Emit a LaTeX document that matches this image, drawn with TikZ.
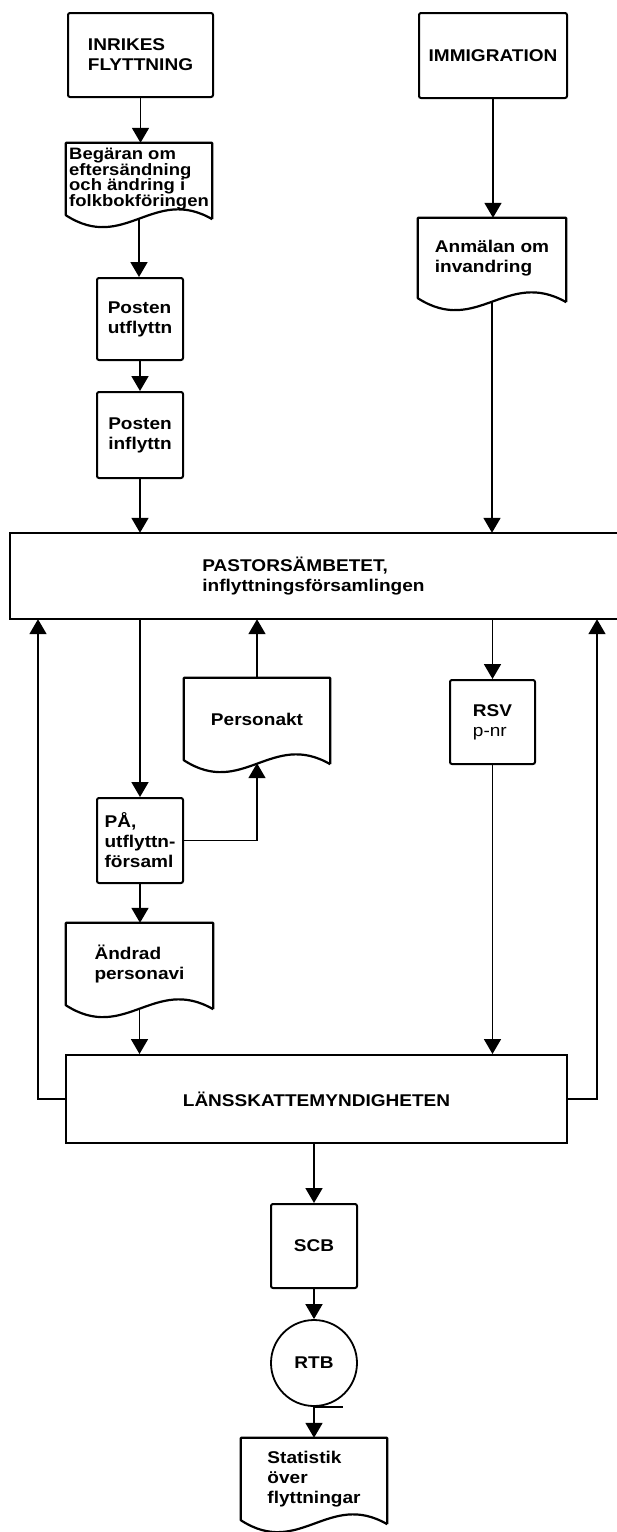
\documentclass[tikz,border=0pt]{standalone}
\usepackage{fontspec}
\setmainfont{Liberation Sans}[FakeStretch=1.12]
\usetikzlibrary{arrows.meta,calc}
\newcommand\lbl{\fontsize{17}{20}\selectfont\bfseries}
\newcommand\lbltight{\fontsize{16.5}{15.5}\selectfont\bfseries}
\tikzset{
  box/.style={draw, line width=2pt, rounded corners=2pt, inner sep=0pt, align=left, font=\lbl},
  docnode/.style={inner sep=0pt, align=left, font=\lbl},
  conn/.style={line width=1.8pt, -{Triangle[length=15pt,width=17pt]}},
  plainline/.style={line width=1.8pt},
  docline/.style={line width=2.2pt, line join=round},
}
\newcommand\docshape[1]{\draw[docline] ($(#1.south east)+(0,4)$) -- (#1.north east) -- (#1.north west) -- (#1.south west) .. controls ($(#1.south west)!0.4!(#1.south east)+(0,38)$) and ($(#1.south west)!0.6!(#1.south east)+(0,-30)$) .. ($(#1.south east)+(0,4)$);}
\begin{document}
\begin{tikzpicture}[x=1pt,y=-1pt]
\useasboundingbox (0,0) rectangle (617,1532);

% nodes
\node[box, minimum width=145pt, minimum height=84pt] (inr) at (140.5,55) {INRIKES\\FLYTTNING};
\node[box, minimum width=148pt, minimum height=85pt] (imm) at (493,55.5) {IMMIGRATION};
\node[docnode, font=\lbltight, minimum width=146pt, minimum height=72pt] (doc1) at (139,179) {Begäran om\\eftersändning\\och ändring i\\folkbokföringen};
\node[box, minimum width=86pt, minimum height=82pt] (pout) at (140,319) {Posten\\utflyttn};
\node[box, minimum width=86pt, minimum height=86pt] (pin) at (140,435) {Posten\\inflyttn};
\node[docnode, minimum width=148pt, minimum height=80pt] (doc2) at (492,258) {Anmälan om\\invandring};
\node[docnode, minimum width=607pt, minimum height=86pt] (past) at (313.5,576) {PASTORSÄMBETET,\\inflyttningsförsamlingen};
\node[docnode, minimum width=146pt, minimum height=82pt] (doc3) at (257,719) {Personakt};
\node[box, minimum width=85pt, minimum height=84pt] (rsv) at (492.5,722) {RSV\\{\mdseries p-nr}};
\node[box, minimum width=86pt, minimum height=85pt] (pa) at (140,840.5) {PÅ,\\utflyttn-\\församl};
\node[docnode, minimum width=147pt, minimum height=82pt] (doc4) at (139.5,964) {Ändrad\\personavi};
\node[box, rounded corners=0pt, minimum width=501pt, minimum height=88pt] (lans) at (316.5,1099) {LÄNSSKATTEMYNDIGHETEN};
\node[box, minimum width=86pt, minimum height=84pt] (scb) at (314,1246) {SCB};
\node[draw, circle, line width=1.8pt, inner sep=0pt, minimum size=86pt, font=\lbl] (rtb) at (314,1363) {RTB};
\node[docnode, minimum width=146pt, minimum height=82pt] (doc5) at (314,1479) {Statistik\\över\\flyttningar};

\coordinate (L) at (38,1099);
\coordinate (R) at (597,1099);

% shapes
\docshape{doc1}
\docshape{doc2}
\docshape{doc3}
\docshape{doc4}
\docshape{doc5}
\draw[line width=2pt] (past.north east) -- (past.north west) -- (past.south west) -- (past.south east);
\draw[plainline] (rtb.south) -- ([xshift=29pt]rtb.south);

% connectors
\draw[conn] (inr.south) -- (inr.south |- doc1.north);
\draw[conn] ($(doc1.south)+(0,3)$) -- (doc1.south |- pout.north);
\draw[conn] (pout.south) -- (pin.north);
\draw[conn] (pin.south) -- (pin.south |- past.north);
\draw[conn] (imm.south) -- (imm.south |- doc2.north);
\draw[conn] ($(doc2.south)+(0,3)$) -- (doc2.south |- past.north);
\draw[conn] (past.south -| pa.north) -- (pa.north);
\draw[conn] (doc3.north) -- (doc3.north |- past.south);
\draw[conn] (pa.east) -| ($(doc3.south)+(0,3)$);
\draw[conn] (past.south -| rsv.north) -- (rsv.north);
\draw[conn] (rsv.south) -- (rsv.south |- lans.north);
\draw[conn] (pa.south) -- (pa.south |- doc4.north);
\draw[conn] ($(doc4.south)+(0,3)$) -- (doc4.south |- lans.north);
\draw[conn] (lans.west) -- (lans.west -| L) -- (L |- past.south);
\draw[conn] (lans.east) -- (lans.east -| R) -- (R |- past.south);
\draw[conn] (lans.south -| scb.north) -- (scb.north);
\draw[conn] (scb.south) -- (rtb.north);
\draw[conn] (rtb.south) -- (doc5.north);
\end{tikzpicture}
\end{document}
